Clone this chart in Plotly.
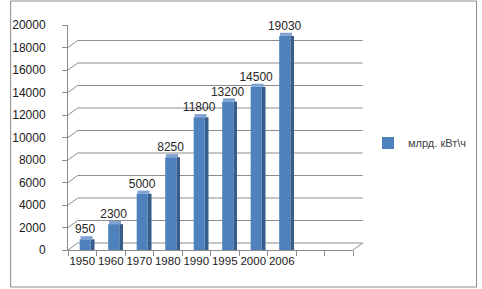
import plotly.graph_objects as go

categories = ["1950", "1960", "1970", "1980", "1990", "1995", "2000", "2006"]
extra_slots = [" ", "  "]
values = [950, 2300, 5000, 8250, 11800, 13200, 14500, 19030]
series_name = "млрд. кВт\\ч"
y_ticks = [0, 2000, 4000, 6000, 8000, 10000, 12000, 14000, 16000, 18000, 20000]

W, H = 482, 289
L, R, T, B = 60, 353, 25, 250
pw, ph = R - L, B - T
ymax = 20000
depth_dx = 10 / pw            # paper units
depth_dy = 7 * ymax / ph      # data units

face = "#4F81BD"
side = "#385D8A"
top = "#7FA3D3"
grid = "#8C8C8C"

fig = go.Figure()
# side face
fig.add_trace(go.Bar(x=categories, y=values, width=0.13, offset=0.30,
                     marker=dict(color=side, line=dict(width=0)),
                     showlegend=False, hoverinfo="skip"))
# top cap
fig.add_trace(go.Bar(x=categories, y=[depth_dy * 0.45] * len(values), base=values,
                     width=0.42, offset=-0.06,
                     marker=dict(color=top, line=dict(width=0)),
                     showlegend=False, hoverinfo="skip"))
# front face
fig.add_trace(go.Bar(x=categories, y=values, width=0.39, offset=-0.09,
                     name=series_name,
                     marker=dict(color=face, line=dict(width=0)),
                     text=[str(v) for v in values], textposition="outside",
                     constraintext="none",
                     textfont=dict(family="Liberation Sans", size=12, color="#262626"),
                     cliponaxis=False))

shapes = []
# back-wall gridlines and diagonal connectors
for v in y_ticks:
    shapes.append(dict(type="line", xref="paper", yref="y",
                       x0=depth_dx, x1=1 + depth_dx, y0=v + depth_dy, y1=v + depth_dy,
                       line=dict(color=grid, width=1), layer="below"))
    shapes.append(dict(type="line", xref="paper", yref="y",
                       x0=0, x1=depth_dx, y0=v, y1=v + depth_dy,
                       line=dict(color=grid, width=1), layer="below"))
# floor right diagonal
shapes.append(dict(type="line", xref="paper", yref="y", x0=1, x1=1 + depth_dx,
                   y0=0, y1=depth_dy, line=dict(color=grid, width=1), layer="below"))
# outer border
shapes.append(dict(type="rect", xref="paper", yref="paper",
                   x0=(1 - L) / pw, x1=(480 - L) / pw,
                   y0=(B - 287) / ph, y1=(B - 1) / ph,
                   line=dict(color="#8C8C8C", width=1), fillcolor="rgba(0,0,0,0)"))

fig.update_layout(
    width=W, height=H,
    margin=dict(l=L, r=W - R, t=T, b=H - B, pad=0),
    paper_bgcolor="white", plot_bgcolor="rgba(0,0,0,0)",
    barmode="overlay",
    font=dict(family="Liberation Sans", size=12, color="#1a1a1a"),
    shapes=shapes,
    showlegend=True,
    legend=dict(xref="container", yref="container", x=368 / W, y=1 - 143 / H,
                xanchor="left", yanchor="middle",
                font=dict(family="Liberation Sans", size=11, color="#404040"),
                itemwidth=30, bgcolor="rgba(0,0,0,0)"),
    xaxis=dict(type="category", categoryorder="array",
               categoryarray=categories + extra_slots, range=[-0.5, 9.5],
               showgrid=False, showline=True, linecolor=grid, linewidth=1,
               ticks="outside", ticklen=5, tickcolor=grid, tickson="boundaries",
               tickangle=0, tickfont=dict(size=11.5), zeroline=False, fixedrange=True),
    yaxis=dict(range=[0, ymax], tickvals=y_ticks, ticktext=[str(v) for v in y_ticks],
               showgrid=False,
               showline=True, linecolor=grid, linewidth=1,
               ticks="outside", ticklen=5, tickcolor=grid, ticklabelstandoff=14,
               tickfont=dict(size=12), zeroline=False, fixedrange=True),
)

fig.write_html("out.html")
